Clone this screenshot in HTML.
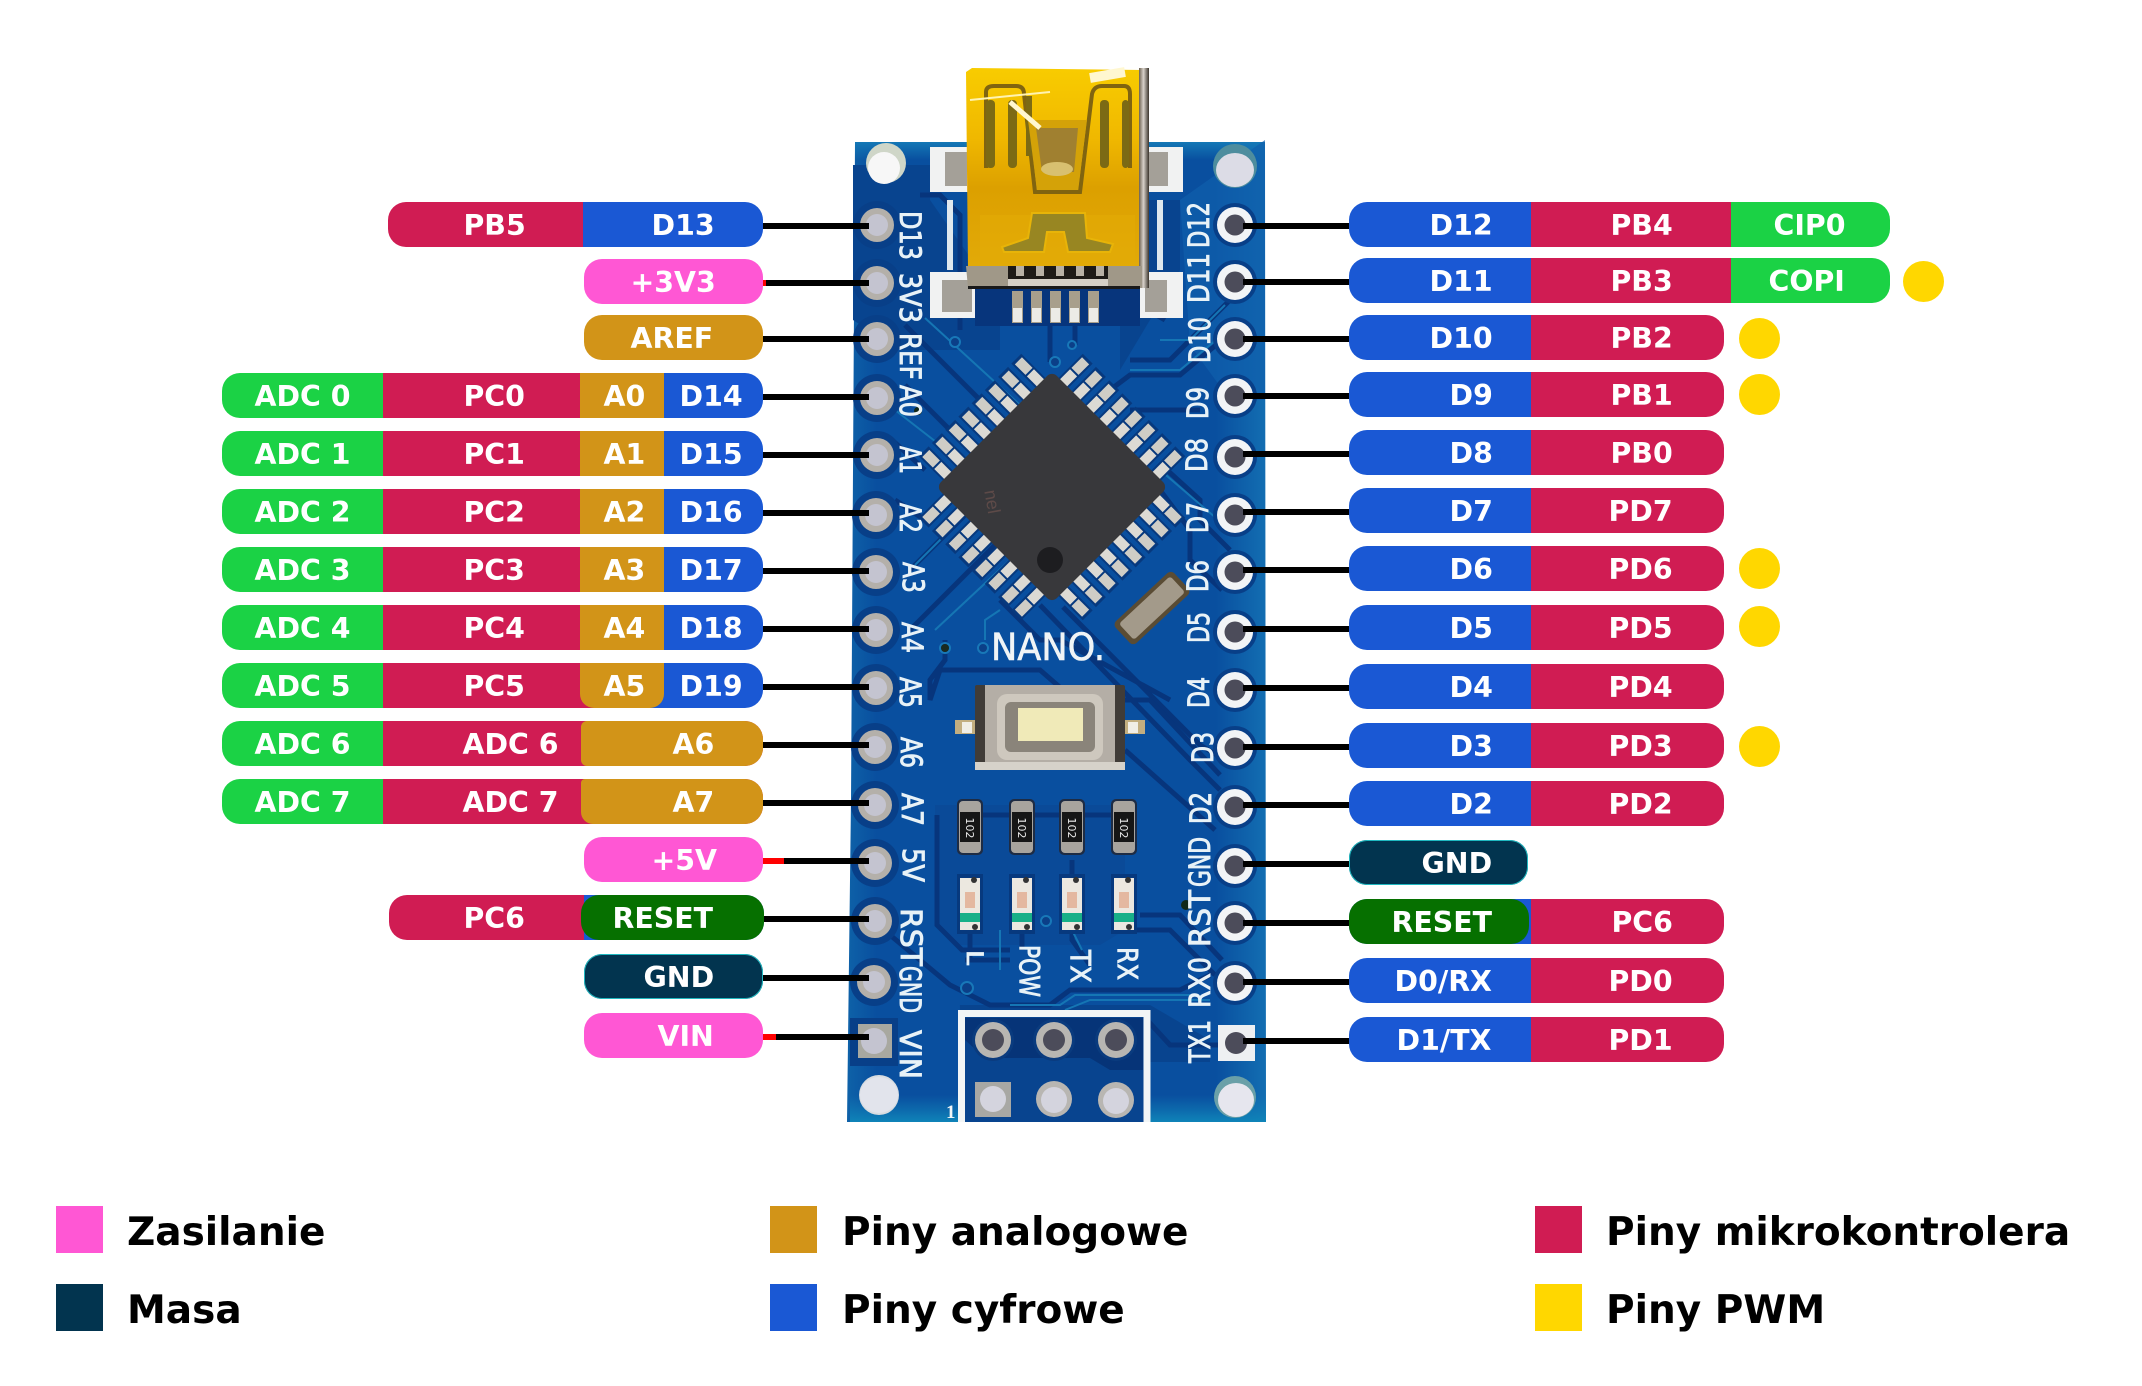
<!DOCTYPE html>
<html><head><meta charset="utf-8"><title>Arduino Nano pinout</title>
<style>
html,body{margin:0;padding:0;background:#fff}
#w{position:relative;width:2142px;height:1386px;overflow:hidden;background:#fff}
svg{position:absolute;left:0;top:0}
.p{position:absolute;height:45px;border-radius:18px;overflow:hidden;display:flex}
.p i{display:block;height:45px}.p i:last-child{flex:1}
.c{background:#D01C53}.b{background:#1A58D4}.g{background:#1BD245}.o{background:#D29418}.k{background:#FF57D4}.n{background:#02344F}.d{background:#067000}.y{background:#FFD700}
#w>b{position:absolute;font:bold 28.4px/45px "DejaVu Sans",sans-serif;color:#fff;white-space:nowrap;margin:1px 0 0 -0.500px}
.s{position:absolute;width:47px;height:47px}
#w>u{position:absolute;text-decoration:none;font:bold 39px/44px "DejaVu Sans",sans-serif;color:#000;white-space:nowrap;margin-top:1px}
.dot{position:absolute;width:41px;height:41px;border-radius:50%;background:#FFD700}
</style></head><body><div id="w">
<svg width="2142" height="1386" viewBox="0 0 2142 1386" xmlns="http://www.w3.org/2000/svg">
<defs>
<linearGradient id="bd" x1="0" y1="0" x2="1" y2="0"><stop offset="0" stop-color="#0e62a8"/><stop offset=".07" stop-color="#094f9f"/><stop offset=".88" stop-color="#094f9f"/><stop offset="1" stop-color="#136eb2"/></linearGradient>
<linearGradient id="bt" x1="0" y1="0" x2="0" y2="1"><stop offset="0" stop-color="#0f7bb6" stop-opacity="0"/><stop offset="1" stop-color="#0f84b8"/></linearGradient>
<linearGradient id="tp" x1="0" y1="1" x2="0" y2="0"><stop offset="0" stop-color="#1478b6" stop-opacity="0"/><stop offset="1" stop-color="#1478b6"/></linearGradient>
<linearGradient id="gold" x1="0" y1="0" x2="0" y2="1"><stop offset="0" stop-color="#f8cc00"/><stop offset=".35" stop-color="#f0b800"/><stop offset=".6" stop-color="#dca000"/><stop offset="1" stop-color="#e2aa08"/></linearGradient>
<linearGradient id="sil" x1="0" y1="0" x2="1" y2="0"><stop offset="0" stop-color="#6c6050"/><stop offset=".45" stop-color="#d8d2ca"/><stop offset="1" stop-color="#3a342c"/></linearGradient>
<g id="pin"><rect x="-7" y="-116" width="14" height="40" fill="#07397e"/><rect x="-5" y="-96" width="10" height="15" fill="#dcdad4"/><rect x="-5" y="-113" width="10" height="15" fill="#cfcdc6"/></g>
<g id="side"><use href="#pin" x="-65.5"/><use href="#pin" x="-46.8"/><use href="#pin" x="-28"/><use href="#pin" x="-9.4"/><use href="#pin" x="9.4"/><use href="#pin" x="28"/><use href="#pin" x="46.8"/><use href="#pin" x="65.5"/></g>
<g id="res"><rect x="-13" y="-28" width="26" height="56" rx="5" fill="#1e2c44"/><rect x="-11" y="-26" width="22" height="52" rx="4" fill="#a8a49e"/><rect x="-10" y="-15" width="20" height="30" fill="#161616"/></g>
<g id="led"><rect x="-13" y="-30" width="26" height="60" fill="#07397e"/><rect x="-10" y="-26" width="20" height="52" fill="#ece8e0"/><rect x="-10" y="9" width="20" height="9" fill="#18b088"/><rect x="-5" y="-12" width="10" height="16" fill="#e4b8a0"/><circle cx="4" cy="-24" r="3" fill="#333"/><circle cx="5" cy="23" r="3" fill="#333"/></g>
<g id="lp"><circle r="24" fill="#083f88"/><circle r="17" fill="#b4b0aa"/><circle r="11" fill="#c4c4d0"/></g>
<g id="rp"><circle r="22" fill="#083f88"/><circle r="18" fill="#f2f4f6"/><circle r="10.5" fill="#4c4c5a"/></g>
</defs>
<!-- board -->
<polygon points="855,142 1265,142 1266,1122 847,1122 851,800" fill="url(#bd)"/>
<rect x="850" y="1095" width="416" height="27" fill="url(#bt)"/>
<rect x="855" y="142" width="410" height="18" fill="url(#tp)"/>
<!-- darker zones -->
<g fill="#08448f">
<polygon points="853,165 930,165 930,200 1000,300 1000,350 900,350 853,320"/>
<polygon points="1120,200 1180,200 1180,270 1120,370"/>
<polygon points="960,1005 1150,1005 1210,1040 1210,1062 1150,1062 1150,1122 958,1122"/>
<polygon points="935,805 1125,805 1125,930 1100,945 960,945 935,925" fill="#0a4a98"/>
</g>
<polygon points="1180,200 1265,140 1265,400 1230,400 1190,345" fill="#0f5fac" opacity=".7"/>
<g fill="none" stroke="#07357c" stroke-width="5">
<path d="M920 195 H940 L960 215 V330"/><path d="M905 325 L1000 420"/><path d="M905 385 L960 440"/>
<path d="M892 440 L925 470"/><path d="M895 500 L925 520"/><path d="M910 570 L990 490"/><path d="M910 630 L1000 540"/>
<path d="M945 640 V660 L930 680 V700 L940 670 H1040 L1063 690"/>
<path d="M1063 607 L1200 745 L1225 760"/><path d="M1040 605 L1190 760 L1220 790"/><path d="M1000 600 L1040 640 H1060 L1170 700"/>
<path d="M1167 470 L1200 500 V520 L1230 550"/><path d="M1160 490 L1190 530 V560 L1222 590"/>
<path d="M1130 360 H1170 L1230 300"/><path d="M1110 390 L1130 375 H1180 L1222 340"/><path d="M1130 410 H1200"/>
<path d="M1110 300 H1130 L1165 320"/><path d="M1125 700 H1150 L1220 775"/><path d="M1125 750 L1215 830"/>
<path d="M937 815 V925 L962 950 H1010"/><path d="M965 960 H1010"/>
<path d="M890 935 L950 985 L990 1005 H1050 L1070 990 H1180 L1210 975"/><path d="M1140 915 H1180 L1222 960"/><path d="M1135 930 H1170 L1215 975"/>
<path d="M1147 1020 L1170 1045 H1220"/>
<path d="M970 900 V960 M1022 900 V950 M1072 860 V940 L1090 965"/><path d="M970 815 H1125"/>
<path d="M1050 320 V362"/><path d="M1075 320 V345"/>
</g>
<g fill="none" stroke="#1576b4" stroke-width="2">
<path d="M925 318 L1020 405"/><path d="M895 410 L940 445"/><path d="M915 565 L985 495"/><path d="M935 630 L1010 560"/><path d="M985 640 V620 L1000 610"/>
<path d="M1010 1005 H1060 L1075 995 H1190"/><path d="M1160 340 H1190 L1225 305"/><path d="M1130 370 H1180 L1228 330"/><path d="M1160 470 L1230 530"/>
<path d="M1210 1000 H1090 L1065 1010"/><path d="M1000 970 L1000 930"/><path d="M1072 930 L1082 950"/>
</g>
<!-- vias -->
<g fill="#0b3f88" stroke="#1878b8" stroke-width="2">
<circle cx="955" cy="342" r="5"/><circle cx="1055" cy="362" r="5"/><circle cx="1072" cy="345" r="4"/><circle cx="945" cy="648" r="5"/><circle cx="983" cy="648" r="5"/>
<circle cx="1046" cy="921" r="5"/><circle cx="967" cy="988" r="6"/>
</g>
<circle cx="945" cy="648" r="4" fill="#1a2a20"/>
<circle cx="1186" cy="905" r="5" fill="#102818"/><circle cx="918" cy="411" r="4" fill="#102818"/>
<!-- mounting holes -->
<g>
<circle cx="886" cy="163" r="20" fill="#cfd6c8"/><ellipse cx="884" cy="168" rx="16" ry="16" fill="#f7f7f7"/>
<circle cx="1235" cy="166" r="22" fill="#4e8d9e"/><ellipse cx="1235" cy="170" rx="19" ry="17" fill="#dcdce6"/>
<circle cx="879" cy="1095" r="20" fill="#d8dce0"/><ellipse cx="879" cy="1095" rx="19" ry="18" fill="#e2e4ec"/>
<circle cx="1235" cy="1097" r="21" fill="#6aa0a8"/><ellipse cx="1236" cy="1100" rx="18" ry="17" fill="#e6e6ee"/>
</g>
<!-- left pads -->
<use href="#lp" x="877" y="225"/><use href="#lp" x="877" y="283"/><use href="#lp" x="877" y="339"/><use href="#lp" x="877" y="398"/><use href="#lp" x="877" y="455"/><use href="#lp" x="876" y="515"/><use href="#lp" x="876" y="572"/><use href="#lp" x="876" y="630"/><use href="#lp" x="876" y="688"/><use href="#lp" x="875" y="747"/><use href="#lp" x="875" y="805"/><use href="#lp" x="875" y="863"/><use href="#lp" x="875" y="921"/><use href="#lp" x="874" y="982"/>
<rect x="850" y="1018" width="48" height="48" fill="#083f88"/><rect x="858" y="1024" width="34" height="34" fill="#a8a8a0"/><circle cx="874" cy="1041" r="13" fill="#c4c4d0"/>
<!-- right pads -->
<use href="#rp" x="1235" y="225"/><use href="#rp" x="1235" y="282"/><use href="#rp" x="1235" y="339"/><use href="#rp" x="1235" y="396"/><use href="#rp" x="1235" y="457"/><use href="#rp" x="1235" y="515"/><use href="#rp" x="1235" y="572"/><use href="#rp" x="1235" y="632"/><use href="#rp" x="1235" y="690"/><use href="#rp" x="1235" y="748"/><use href="#rp" x="1235" y="807"/><use href="#rp" x="1235" y="866"/><use href="#rp" x="1235" y="923"/><use href="#rp" x="1235" y="983"/>
<rect x="1218" y="1025" width="37" height="36" fill="#eef0f2"/><circle cx="1236" cy="1043" r="11" fill="#4c4c5a"/>
<!-- usb pads -->
<g fill="#f1f2f2"><rect x="930" y="147" width="38" height="45"/><rect x="1146" y="147" width="37" height="45"/><rect x="930" y="272" width="46" height="46"/><rect x="1137" y="272" width="46" height="46"/></g>
<g fill="#a4a098"><rect x="945" y="152" width="22" height="34"/><rect x="1148" y="152" width="20" height="34"/><rect x="942" y="280" width="30" height="32"/><rect x="1145" y="280" width="22" height="32"/></g>
<rect x="947" y="200" width="6" height="70" fill="#dfe8ee"/><rect x="1157" y="200" width="6" height="70" fill="#dfe8ee"/>
<!-- usb pins -->
<rect x="975" y="288" width="165" height="38" fill="#07357c"/>
<g fill="#a89f8c"><rect x="1012" y="291" width="11" height="32"/><rect x="1031" y="291" width="11" height="32"/><rect x="1050" y="291" width="11" height="32"/><rect x="1069" y="291" width="11" height="32"/><rect x="1088" y="291" width="11" height="32"/></g>
<g fill="#ecebe6"><rect x="1013" y="308" width="9" height="14"/><rect x="1032" y="308" width="9" height="14"/><rect x="1051" y="308" width="9" height="14"/><rect x="1070" y="308" width="9" height="14"/><rect x="1089" y="308" width="9" height="14"/></g>
<!-- usb body -->
<polygon points="966,72 972,68 1142,70 1142,268 968,268" fill="url(#gold)"/>
<polygon points="980,270 980,215 1135,215 1135,270" fill="#e4ac06" opacity=".5"/>
<g fill="none" stroke="#806410" stroke-width="4">
<path d="M986 168 V92 Q986 86 994 86 H1016 Q1024 86 1024 94 L1035 192 H1080 L1092 94 Q1094 86 1102 86 H1124 Q1130 86 1130 94 V168"/>
</g>
<g fill="#7c6a14"><rect x="986" y="100" width="9" height="68" rx="4"/><rect x="1008" y="100" width="9" height="68" rx="4"/><rect x="1026" y="96" width="6" height="60"/><rect x="1100" y="100" width="9" height="68" rx="4"/><rect x="1122" y="100" width="7" height="68" rx="4"/></g>
<polygon points="1028,120 1087,120 1078,190 1037,190" fill="#d4a208"/>
<polygon points="1036,128 1078,128 1074,172 1042,172" fill="#a08030"/>
<ellipse cx="1057" cy="169" rx="16" ry="7" fill="#d8c070"/>
<polygon points="1002,247 1028,238 1032,213 1085,213 1087,238 1113,244 1110,252 1068,252 1064,232 1047,232 1044,252 1004,252" fill="#988622" stroke="#e8b408" stroke-width="2"/>
<path d="M1010 102 L1040 128" stroke="#fff7d0" stroke-width="5" fill="none"/><path d="M1090 78 L1125 72" stroke="#fff7d0" stroke-width="10" fill="none"/><path d="M970 100 L1050 92" stroke="#fff3b0" stroke-width="2" fill="none"/>
<rect x="1139" y="68" width="10" height="220" fill="url(#sil)"/>
<polygon points="966,266 1142,266 1142,288 968,288" fill="#a09888"/>
<rect x="1008" y="266" width="100" height="14" fill="#1e1a16"/>
<g fill="#b8b0a4"><rect x="1016" y="266" width="8" height="10"/><rect x="1036" y="266" width="8" height="10"/><rect x="1056" y="266" width="8" height="10"/><rect x="1076" y="266" width="8" height="10"/><rect x="1096" y="266" width="8" height="10"/></g>
<rect x="1008" y="279" width="100" height="7" fill="#d6d0c6"/>
<rect x="968" y="286" width="172" height="3" fill="#1a1a1a"/>
<!-- chip -->
<g transform="translate(1052,487) rotate(45)"><use href="#side"/></g>
<g transform="translate(1052,487) rotate(135)"><use href="#side"/></g>
<g transform="translate(1052,487) rotate(225)"><use href="#side"/></g>
<g transform="translate(1052,487) rotate(315)"><use href="#side"/></g>
<rect x="970" y="405" width="164" height="164" rx="7" fill="#38383b" transform="rotate(45 1052 487)"/>
<circle cx="1050" cy="560" r="13" fill="#1d1d20"/>
<text x="985" y="500" transform="rotate(80 990 495)" font-family="Liberation Sans,sans-serif" font-size="18" fill="#5d4a48">nel</text>
<!-- crystal -->
<g transform="rotate(-43 1152 608)"><rect x="1112" y="593" width="80" height="30" rx="5" fill="#5a4c34"/><rect x="1117" y="597" width="70" height="22" rx="3" fill="#a39a8a"/></g>
<!-- NANO -->
<text x="991" y="660" font-family="DejaVu Sans,sans-serif" font-size="37" fill="#f0f4f6" stroke="#f0f4f6" stroke-width=".6" textLength="114" lengthAdjust="spacingAndGlyphs">NANO.</text>
<!-- button -->
<rect x="955" y="720" width="190" height="14" fill="#c2ae80"/><rect x="962" y="722" width="10" height="11" fill="#f0eee6"/><rect x="1128" y="722" width="10" height="11" fill="#f0eee6"/>
<rect x="975" y="685" width="150" height="85" rx="2" fill="#403c38"/>
<rect x="985" y="685" width="130" height="85" fill="#b4aea6"/>
<rect x="997" y="694" width="106" height="66" rx="10" fill="#cec8be"/>
<rect x="1005" y="702" width="90" height="50" rx="6" fill="#8a847a"/>
<rect x="1018" y="708" width="65" height="33" fill="#f0eab8"/>
<rect x="975" y="762" width="150" height="8" fill="#d6d2ca"/>
<!-- resistors and LEDs -->
<use href="#res" x="970" y="827"/><use href="#res" x="1022" y="827"/><use href="#res" x="1072" y="827"/><use href="#res" x="1124" y="827"/>
<g font-family="DejaVu Sans,sans-serif" font-size="11" fill="#e8e8e8" text-anchor="middle"><text transform="translate(966,828) rotate(90)">102</text><text transform="translate(1018,828) rotate(90)">102</text><text transform="translate(1068,828) rotate(90)">102</text><text transform="translate(1120,828) rotate(90)">102</text></g>
<use href="#led" x="970" y="904"/><use href="#led" x="1022" y="904"/><use href="#led" x="1072" y="904"/><use href="#led" x="1124" y="904"/>
<!-- ICSP -->
<path d="M961.500 1122 V1013.500 H1147 V1122" fill="none" stroke="#f2f5f6" stroke-width="7"/>
<polygon points="965,1018 1143,1018 1143,1070 1110,1070 1090,1058 985,1058 965,1040" fill="#063478"/>
<g fill="#0a3b7e"><circle cx="993" cy="1040" r="21"/><circle cx="1054" cy="1040" r="21"/><circle cx="1116" cy="1040" r="21"/></g>
<g fill="#b8b6b2"><circle cx="993" cy="1040" r="18"/><circle cx="1054" cy="1040" r="18"/><circle cx="1116" cy="1040" r="18"/></g>
<g fill="#4c4c5a"><circle cx="993" cy="1040" r="11"/><circle cx="1054" cy="1040" r="11"/><circle cx="1116" cy="1040" r="11"/></g>
<rect x="975" y="1082" width="36" height="35" fill="#a8a8a4"/>
<g fill="#b8b6b2"><circle cx="1054" cy="1099" r="18"/><circle cx="1116" cy="1100" r="18"/></g>
<g fill="#d4d4de"><circle cx="993" cy="1099" r="13"/><circle cx="1054" cy="1100" r="13"/><circle cx="1116" cy="1101" r="13"/></g>
<text x="946" y="1118" font-family="Liberation Serif,serif" font-weight="bold" font-size="19" fill="#f2f5f6">1</text>
<!-- silk -->
<g font-family="DejaVu Sans,sans-serif" font-size="29" fill="#e8f2f7" stroke="#e8f2f7" stroke-width=".9">
<text transform="translate(900,211) rotate(90)" textLength="49" lengthAdjust="spacingAndGlyphs">D13</text>
<text transform="translate(900,273) rotate(90)" textLength="50" lengthAdjust="spacingAndGlyphs">3V3</text>
<text transform="translate(900,333) rotate(90)" textLength="47" lengthAdjust="spacingAndGlyphs">REF</text>
<text transform="translate(900,385) rotate(90)" textLength="32" lengthAdjust="spacingAndGlyphs">A0</text>
<text transform="translate(900,446) rotate(90)" textLength="28" lengthAdjust="spacingAndGlyphs">A1</text>
<text transform="translate(900,503) rotate(90)" textLength="30" lengthAdjust="spacingAndGlyphs">A2</text>
<text transform="translate(903,562) rotate(90)" textLength="31" lengthAdjust="spacingAndGlyphs">A3</text>
<text transform="translate(902,622) rotate(90)" textLength="31" lengthAdjust="spacingAndGlyphs">A4</text>
<text transform="translate(900,677) rotate(90)" textLength="31" lengthAdjust="spacingAndGlyphs">A5</text>
<text transform="translate(901,737) rotate(90)" textLength="31" lengthAdjust="spacingAndGlyphs">A6</text>
<text transform="translate(902,793) rotate(90)" textLength="33" lengthAdjust="spacingAndGlyphs">A7</text>
<text transform="translate(903,848) rotate(90)" textLength="34" lengthAdjust="spacingAndGlyphs">5V</text>
<text transform="translate(901,908) rotate(90)" textLength="58" lengthAdjust="spacingAndGlyphs">RST</text>
<text transform="translate(900,966) rotate(90)" textLength="47" lengthAdjust="spacingAndGlyphs">GND</text>
<text transform="translate(900,1030) rotate(90)" textLength="49" lengthAdjust="spacingAndGlyphs">VIN</text>
<text transform="translate(1209,248) rotate(-90)" textLength="46" lengthAdjust="spacingAndGlyphs">D12</text>
<text transform="translate(1209,303) rotate(-90)" textLength="50" lengthAdjust="spacingAndGlyphs">D11</text>
<text transform="translate(1210,363) rotate(-90)" textLength="46" lengthAdjust="spacingAndGlyphs">D10</text>
<text transform="translate(1208,419) rotate(-90)" textLength="32" lengthAdjust="spacingAndGlyphs">D9</text>
<text transform="translate(1207,472) rotate(-90)" textLength="34" lengthAdjust="spacingAndGlyphs">D8</text>
<text transform="translate(1208,533) rotate(-90)" textLength="31" lengthAdjust="spacingAndGlyphs">D7</text>
<text transform="translate(1208,592) rotate(-90)" textLength="32" lengthAdjust="spacingAndGlyphs">D6</text>
<text transform="translate(1209,643) rotate(-90)" textLength="31" lengthAdjust="spacingAndGlyphs">D5</text>
<text transform="translate(1209,708) rotate(-90)" textLength="31" lengthAdjust="spacingAndGlyphs">D4</text>
<text transform="translate(1213,763) rotate(-90)" textLength="31" lengthAdjust="spacingAndGlyphs">D3</text>
<text transform="translate(1211,824) rotate(-90)" textLength="32" lengthAdjust="spacingAndGlyphs">D2</text>
<text transform="translate(1210,887) rotate(-90)" textLength="50" lengthAdjust="spacingAndGlyphs">GND</text>
<text transform="translate(1210,947) rotate(-90)" textLength="57" lengthAdjust="spacingAndGlyphs">RST</text>
<text transform="translate(1210,1008) rotate(-90)" textLength="51" lengthAdjust="spacingAndGlyphs">RX0</text>
<text transform="translate(1210,1063) rotate(-90)" textLength="43" lengthAdjust="spacingAndGlyphs">TX1</text>
<text transform="translate(967,950) rotate(90)" font-size="22" textLength="15" lengthAdjust="spacingAndGlyphs">L</text>
<text transform="translate(1020,945) rotate(90)" font-size="28" textLength="52" lengthAdjust="spacingAndGlyphs">POW</text>
<text transform="translate(1071,950) rotate(90)" font-size="28" textLength="33" lengthAdjust="spacingAndGlyphs">TX</text>
<text transform="translate(1118,947) rotate(90)" font-size="28" textLength="33" lengthAdjust="spacingAndGlyphs">RX</text>
</g>
<!-- connectors -->
<g fill="none" stroke="#000" stroke-width="6">
<path d="M760 226H869M760 283H869M760 339H869M760 397H869M760 455H869M760 513H869M760 571H869M760 629H869M760 687H869M760 745H869M760 803H869M760 861H869M760 919H869M760 978H869M760 1037H869"/>
<path d="M1243 226H1352M1243 282H1352M1243 339H1352M1243 396H1352M1243 454H1352M1243 512H1352M1243 570H1352M1243 629H1352M1243 688H1352M1243 747H1352M1243 805H1352M1243 864H1352M1243 923H1352M1243 982H1352M1243 1041H1352"/>
</g>
<g fill="#f00"><rect x="763" y="280" width="3" height="6"/><rect x="763" y="858" width="21" height="6"/><rect x="763" y="1034" width="13" height="6"/></g>
</svg>

<!-- left pills -->
<div class="p" style="left:388px;top:202px;width:375px"><i class="c" style="width:195px"></i><i class="b"></i></div>
<div class="p k" style="left:584px;top:259px;width:179px"></div>
<div class="p o" style="left:584px;top:315px;width:179px"></div>
<div class="p" style="left:222px;top:373px;width:541px"><i class="g" style="width:161px"></i><i class="c" style="width:197px"></i><i class="o" style="width:84px"></i><i class="b"></i></div>
<div class="p" style="left:222px;top:431px;width:541px"><i class="g" style="width:161px"></i><i class="c" style="width:197px"></i><i class="o" style="width:84px"></i><i class="b"></i></div>
<div class="p" style="left:222px;top:489px;width:541px"><i class="g" style="width:161px"></i><i class="c" style="width:197px"></i><i class="o" style="width:84px"></i><i class="b"></i></div>
<div class="p" style="left:222px;top:547px;width:541px"><i class="g" style="width:161px"></i><i class="c" style="width:197px"></i><i class="o" style="width:84px"></i><i class="b"></i></div>
<div class="p" style="left:222px;top:605px;width:541px"><i class="g" style="width:161px"></i><i class="c" style="width:197px"></i><i class="o" style="width:84px"></i><i class="b"></i></div>
<div class="p" style="left:222px;top:663px;width:541px"><i class="g" style="width:161px"></i><i class="c" style="width:239px"></i><i class="b"></i></div>
<div class="p o" style="left:580px;top:663px;width:84px;border-radius:0 0 14px 14px"></div>
<div class="p" style="left:222px;top:721px;width:541px"><i class="g" style="width:161px"></i><i class="c"></i></div>
<div class="p o" style="left:581px;top:721px;width:182px;border-radius:6px 18px 18px 6px"></div>
<div class="p" style="left:222px;top:779px;width:541px"><i class="g" style="width:161px"></i><i class="c"></i></div>
<div class="p o" style="left:581px;top:779px;width:182px;border-radius:4px 18px 18px 12px"></div>
<div class="p k" style="left:584px;top:837px;width:179px"></div>
<div class="p" style="left:389px;top:895px;width:375px"><i class="c" style="width:195px"></i><i class="b"></i></div>
<div class="p d" style="left:581px;top:895px;width:183px"></div>
<div class="p n" style="left:584px;top:954px;width:179px;box-shadow:inset 0 0 0 1px #1fb8c0"></div>
<div class="p k" style="left:584px;top:1013px;width:179px"></div>
<!-- right pills -->
<div class="p" style="left:1349px;top:202px;width:541px"><i class="b" style="width:182px"></i><i class="c" style="width:200px"></i><i class="g"></i></div>
<div class="p" style="left:1349px;top:258px;width:541px"><i class="b" style="width:182px"></i><i class="c" style="width:200px"></i><i class="g"></i></div>
<div class="p" style="left:1349px;top:315px;width:375px"><i class="b" style="width:182px"></i><i class="c"></i></div>
<div class="p" style="left:1349px;top:372px;width:375px"><i class="b" style="width:182px"></i><i class="c"></i></div>
<div class="p" style="left:1349px;top:430px;width:375px"><i class="b" style="width:182px"></i><i class="c"></i></div>
<div class="p" style="left:1349px;top:488px;width:375px"><i class="b" style="width:182px"></i><i class="c"></i></div>
<div class="p" style="left:1349px;top:546px;width:375px"><i class="b" style="width:182px"></i><i class="c"></i></div>
<div class="p" style="left:1349px;top:605px;width:375px"><i class="b" style="width:182px"></i><i class="c"></i></div>
<div class="p" style="left:1349px;top:664px;width:375px"><i class="b" style="width:182px"></i><i class="c"></i></div>
<div class="p" style="left:1349px;top:723px;width:375px"><i class="b" style="width:182px"></i><i class="c"></i></div>
<div class="p" style="left:1349px;top:781px;width:375px"><i class="b" style="width:182px"></i><i class="c"></i></div>
<div class="p n" style="left:1349px;top:840px;width:179px;box-shadow:inset 0 0 0 1px #1fb8c0"></div>
<div class="p" style="left:1349px;top:899px;width:375px"><i class="b" style="width:182px"></i><i class="c"></i></div>
<div class="p d" style="left:1349px;top:899px;width:180px"></div>
<div class="p" style="left:1349px;top:958px;width:375px"><i class="b" style="width:182px"></i><i class="c"></i></div>
<div class="p" style="left:1349px;top:1017px;width:375px"><i class="b" style="width:182px"></i><i class="c"></i></div>
<!-- dots -->
<div class="dot" style="left:1903px;top:261px"></div>
<div class="dot" style="left:1739px;top:318px"></div>
<div class="dot" style="left:1739px;top:374px"></div>
<div class="dot" style="left:1739px;top:548px"></div>
<div class="dot" style="left:1739px;top:606px"></div>
<div class="dot" style="left:1739px;top:726px"></div>
<!-- left labels -->
<b style="left:464px;top:202px">PB5</b><b style="left:652px;top:202px">D13</b>
<b style="left:631px;top:259px">+3V3</b>
<b style="left:631px;top:315px">AREF</b>
<b style="left:255px;top:373px">ADC 0</b><b style="left:464px;top:373px">PC0</b><b style="left:604px;top:373px">A0</b><b style="left:680px;top:373px">D14</b>
<b style="left:255px;top:431px">ADC 1</b><b style="left:464px;top:431px">PC1</b><b style="left:604px;top:431px">A1</b><b style="left:680px;top:431px">D15</b>
<b style="left:255px;top:489px">ADC 2</b><b style="left:464px;top:489px">PC2</b><b style="left:604px;top:489px">A2</b><b style="left:680px;top:489px">D16</b>
<b style="left:255px;top:547px">ADC 3</b><b style="left:464px;top:547px">PC3</b><b style="left:604px;top:547px">A3</b><b style="left:680px;top:547px">D17</b>
<b style="left:255px;top:605px">ADC 4</b><b style="left:464px;top:605px">PC4</b><b style="left:604px;top:605px">A4</b><b style="left:680px;top:605px">D18</b>
<b style="left:255px;top:663px">ADC 5</b><b style="left:464px;top:663px">PC5</b><b style="left:604px;top:663px">A5</b><b style="left:680px;top:663px">D19</b>
<b style="left:255px;top:721px">ADC 6</b><b style="left:463px;top:721px">ADC 6</b><b style="left:673px;top:721px">A6</b>
<b style="left:255px;top:779px">ADC 7</b><b style="left:463px;top:779px">ADC 7</b><b style="left:673px;top:779px">A7</b>
<b style="left:652px;top:837px">+5V</b>
<b style="left:464px;top:895px">PC6</b><b style="left:613px;top:895px">RESET</b>
<b style="left:644px;top:954px">GND</b>
<b style="left:658px;top:1013px">VIN</b>
<!-- right labels -->
<b style="left:1430px;top:202px">D12</b><b style="left:1611px;top:202px">PB4</b><b style="left:1774px;top:202px">CIP0</b>
<b style="left:1430px;top:258px">D11</b><b style="left:1611px;top:258px">PB3</b><b style="left:1769px;top:258px">COPI</b>
<b style="left:1430px;top:315px">D10</b><b style="left:1611px;top:315px">PB2</b>
<b style="left:1450px;top:372px">D9</b><b style="left:1611px;top:372px">PB1</b>
<b style="left:1450px;top:430px">D8</b><b style="left:1611px;top:430px">PB0</b>
<b style="left:1450px;top:488px">D7</b><b style="left:1609px;top:488px">PD7</b>
<b style="left:1450px;top:546px">D6</b><b style="left:1609px;top:546px">PD6</b>
<b style="left:1450px;top:605px">D5</b><b style="left:1609px;top:605px">PD5</b>
<b style="left:1450px;top:664px">D4</b><b style="left:1609px;top:664px">PD4</b>
<b style="left:1450px;top:723px">D3</b><b style="left:1609px;top:723px">PD3</b>
<b style="left:1450px;top:781px">D2</b><b style="left:1609px;top:781px">PD2</b>
<b style="left:1422px;top:840px">GND</b>
<b style="left:1392px;top:899px">RESET</b><b style="left:1612px;top:899px">PC6</b>
<b style="left:1395px;top:958px">D0/RX</b><b style="left:1609px;top:958px">PD0</b>
<b style="left:1397px;top:1017px">D1/TX</b><b style="left:1609px;top:1017px">PD1</b>
<!-- legend -->
<div class="s k" style="left:56px;top:1206px"></div><u style="left:127px;top:1210px">Zasilanie</u>
<div class="s n" style="left:56px;top:1284px"></div><u style="left:127px;top:1288px">Masa</u>
<div class="s o" style="left:770px;top:1206px"></div><u style="left:842px;top:1210px">Piny analogowe</u>
<div class="s b" style="left:770px;top:1284px"></div><u style="left:842px;top:1288px">Piny cyfrowe</u>
<div class="s c" style="left:1535px;top:1206px"></div><u style="left:1606px;top:1210px">Piny mikrokontrolera</u>
<div class="s y" style="left:1535px;top:1284px"></div><u style="left:1606px;top:1288px">Piny PWM</u>
</div></body></html>
